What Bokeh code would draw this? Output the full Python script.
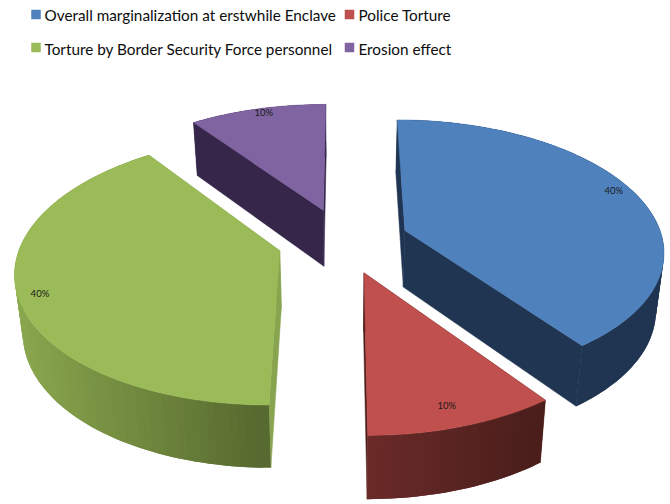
import math
from bokeh.embed import file_html
from bokeh.models import Range1d
from bokeh.plotting import figure
from bokeh.resources import INLINE
from bokeh.core.properties import value

# Chart data
categories = ["Overall marginalization at erstwhile Enclave", "Police Torture",
              "Torture by Border Security Force personnel", "Erosion effect"]
shares = [40, 10, 40, 10]
labels = ["40%", "10%", "40%", "10%"]

# Styling per slice
top_colors = ["#4f81bd", "#c0504d", "#9bbb59", "#8064a2"]
wall_colors = ["#1f3552", "#4f1e1b", "#88a44e", "#35264a"]
rim_left = ["#1f3552", "#6b2b29", "#8ba84f", "#35264a"]
rim_right = ["#1f3552", "#4a1e1b", "#56692e", "#35264a"]
label_radius = [0.93, 0.88, 0.92, 0.96]
label_fraction = [0.48, 0.52, 0.49, 0.53]
draw_order = [3, 0, 2, 1]

# Projection of the tilted pie onto the page
CX, CY = 342.5, 240.0
RX, RY = 258.0, 129.0
CAMERA = 7.0
EXPLODE = 0.255
DEPTH = 57.0
BASE_SHRINK = 0.975


def project(gx, gy):
    w = 1.0 / (1.0 - gy / CAMERA)
    return CX + gx * RX * w, CY + gy * RY * w, w


def top_point(apex, theta, r):
    gx = apex[0] + r * math.sin(theta)
    gy = apex[1] - r * math.cos(theta)
    x, y, _ = project(gx, gy)
    return x, y


def base_point(apex, theta, r):
    gx = apex[0] + r * math.sin(theta)
    gy = apex[1] - r * math.cos(theta)
    x, y, w = project(gx, gy)
    return CX + (x - CX) * BASE_SHRINK, y + DEPTH * (1 + 0.55 * (w - 1))


def mix(a, b, t):
    ca = [int(a[i:i + 2], 16) for i in (1, 3, 5)]
    cb = [int(b[i:i + 2], 16) for i in (1, 3, 5)]
    return "#%02x%02x%02x" % tuple(round(u + (v - u) * t) for u, v in zip(ca, cb))


p = figure(width=670, height=504, output_backend="svg", toolbar_location=None,
           x_range=Range1d(0, 670), y_range=Range1d(504, 0), min_border=0)
p.axis.visible = False
p.grid.visible = False
p.outline_line_color = None
p.background_fill_color = "#ffffff"
p.border_fill_color = "#ffffff"

# Slice angles, clockwise from north
total = sum(shares)
starts, ends, acc = [], [], 0
for s in shares:
    starts.append(2 * math.pi * acc / total)
    acc += s
    ends.append(2 * math.pi * acc / total)


def poly(xs, ys, color, stroke=True):
    p.patch(xs, ys, fill_color=color, line_color=color if stroke else None, line_width=0.5)


text_items = []
for i in draw_order:
    a0, a1 = starts[i], ends[i]
    mid = (a0 + a1) / 2
    apex = (EXPLODE * math.sin(mid), -EXPLODE * math.cos(mid))
    steps = max(int(shares[i] * 2.4), 16)
    thetas = [a0 + (a1 - a0) * k / steps for k in range(steps + 1)]
    top = [top_point(apex, t, 1.0) for t in thetas]
    base = [base_point(apex, t, 1.0) for t in thetas]
    atop = top_point(apex, 0, 0.0)
    abase = base_point(apex, 0, 0.0)

    # Radial walls
    for edge in (0, -1):
        poly([atop[0], top[edge][0], base[edge][0], abase[0]],
             [atop[1], top[edge][1], base[edge][1], abase[1]], wall_colors[i])

    # Outer rim: overlapping strips painted from the far end of the sweep,
    # shaded across the part that faces the viewer
    xs_front = [q[0] for q, a in zip(top, thetas) if math.cos(a) < 0.1] or [q[0] for q in top]
    lo, hi = min(xs_front), max(xs_front)
    for k in range(steps - 1, -1, -1):
        j = min(k + 2, steps)
        xm = (top[k][0] + top[k + 1][0]) / 2
        t = min(max((xm - lo) / max(hi - lo, 1), 0), 1)
        tt = top[k:j + 1]
        bb = base[k:j + 1]
        poly([q[0] for q in tt] + [q[0] for q in reversed(bb)],
             [q[1] for q in tt] + [q[1] for q in reversed(bb)],
             mix(rim_left[i], rim_right[i], t), stroke=False)

    # Top face
    poly([atop[0]] + [q[0] for q in top], [atop[1]] + [q[1] for q in top], top_colors[i])

    la = a0 + (a1 - a0) * label_fraction[i]
    lx, ly = top_point(apex, la, label_radius[i])
    text_items.append((lx, ly, labels[i]))

p.text([t[0] for t in text_items], [t[1] for t in text_items], text=[t[2] for t in text_items],
       text_font=value("Lato"), text_font_size="9.5px", text_color="#1a1a1a",
       text_align="center", text_baseline="middle")

# Legend, two rows of two entries
legend_swatch_x = [35.5, 349, 35.5, 349]
legend_swatch_y = [14, 14, 47, 47]
legend_y = [14, 14, 48, 48]
legend_text_x = [44, 358, 44, 358]
p.rect(legend_swatch_x, legend_swatch_y, width=9.5, height=9.5, fill_color=top_colors, line_color=None)
p.text(legend_text_x, legend_y, text=categories, text_font=value("Lato"), text_font_size="15.3px",
       text_color="#0d0d0d", text_align="left", text_baseline="middle")

open("out.html", "w").write(file_html(p, INLINE))
